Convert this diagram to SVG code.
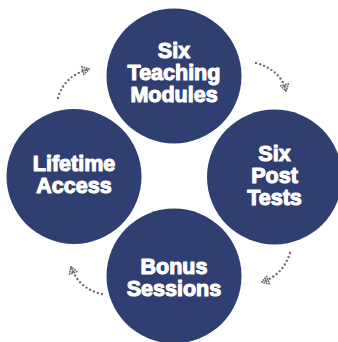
<svg xmlns="http://www.w3.org/2000/svg" width="338" height="342" viewBox="0 0 338 342">
<style>
.node circle{fill:#2f3f71;}
.node text{fill:#ffffff;stroke:#ffffff;stroke-width:1.1;stroke-linejoin:round;font-family:"Liberation Sans",Arial,sans-serif;font-weight:bold;font-size:21.5px;text-anchor:middle;}
.conn path{fill:none;stroke:#76696f;stroke-width:2.4;stroke-linecap:round;stroke-dasharray:0 4.2;}
</style>
<defs>
<marker id="dotarrow" markerUnits="userSpaceOnUse" viewBox="-9 -5 11 10" refX="0" refY="0" markerWidth="11" markerHeight="10" orient="auto">
<g fill="#76696f">
<circle cx="0" cy="0" r="1"/>
<circle cx="-2" cy="-1.3" r="1"/>
<circle cx="-2" cy="1.3" r="1"/>
<circle cx="-4.1" cy="-2.6" r="1"/>
<circle cx="-4.1" cy="0" r="1"/>
<circle cx="-4.1" cy="2.6" r="1"/>
<circle cx="-6.3" cy="-3.8" r="1"/>
<circle cx="-6.3" cy="-1.3" r="1"/>
<circle cx="-6.3" cy="1.3" r="1"/>
<circle cx="-6.3" cy="3.8" r="1"/>
</g>
</marker>
</defs>
<rect width="338" height="342" fill="#ffffff"/>
<g id="connectors" class="conn">
<path d="M58,98 Q64,76 89,69" marker-end="url(#dotarrow)"/>
<path d="M256,63 Q281,70 286,91" marker-end="url(#dotarrow)"/>
<path d="M290,253 Q283,275 262,282" marker-end="url(#dotarrow)"/>
<path d="M102,294 Q79,289 71,267" marker-end="url(#dotarrow)"/>
</g>
<g id="node-teaching" class="node">
<circle cx="174" cy="76" r="67.5"/>
<text x="174" y="58">Six</text>
<text x="174" y="80">Teaching</text>
<text x="174" y="102">Modules</text>
</g>
<g id="node-posttests" class="node">
<circle cx="274.5" cy="177" r="67.5"/>
<text x="274.5" y="161">Six</text>
<text x="274.5" y="183">Post</text>
<text x="274.5" y="205">Tests</text>
</g>
<g id="node-bonus" class="node">
<circle cx="174" cy="276" r="67.5"/>
<text x="174" y="274">Bonus</text>
<text x="174" y="296">Sessions</text>
</g>
<g id="node-lifetime" class="node">
<circle cx="74" cy="176.5" r="67.5"/>
<text x="74" y="171">Lifetime</text>
<text x="74" y="193">Access</text>
</g>
</svg>
